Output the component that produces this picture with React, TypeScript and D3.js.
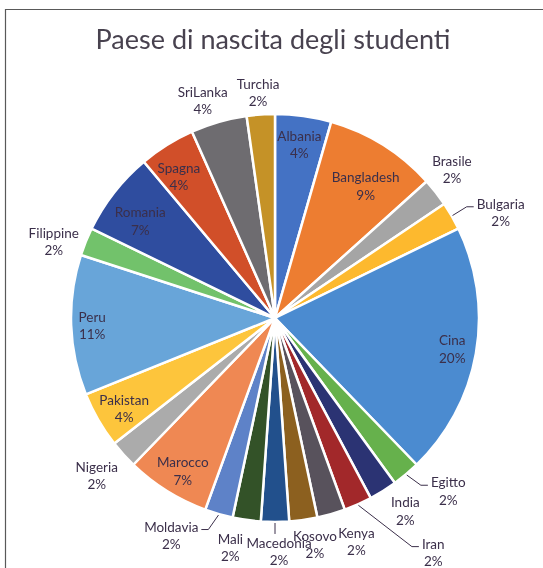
import React, { useEffect, useRef } from "react";
import * as d3 from "d3";

const TITLE = "Paese di nascita degli studenti";

const countries = [
  "Albania", "Bangladesh", "Brasile", "Bulgaria", "Cina", "Egitto", "India", "Iran",
  "Kenya", "Kosovo", "Macedonia", "Mali", "Moldavia", "Marocco", "Nigeria", "Pakistan",
  "Peru", "Filippine", "Romania", "Spagna", "SriLanka", "Turchia",
];

// number of students per country (45 in total)
const students = [2, 4, 1, 1, 9, 1, 1, 1, 1, 1, 1, 1, 1, 3, 1, 2, 5, 1, 3, 2, 2, 1];

const colors = [
  "#4472C4", "#ED7D31", "#A5A5A5", "#FDB92E", "#4B8BD0", "#66B14C", "#2B3373", "#A2282A",
  "#58525C", "#8C601F", "#22508C", "#335228", "#5E82C8", "#EF8853", "#ABABAB", "#FDC53C",
  "#68A5D9", "#72C26B", "#2F4D9F", "#D14F29", "#6E6C70", "#C59227",
];

// label placement: radius (px) and angle nudge (deg) from the slice middle; leader flag
const labelLayout: { r: number; da: number; leader?: boolean }[] = [
  { r: 175, da: 0 }, { r: 160, da: 2.5 }, { r: 231, da: -2 }, { r: 249, da: 5, leader: true },
  { r: 180, da: 0 }, { r: 245, da: -5, leader: true }, { r: 233, da: -2 }, { r: 283, da: -10, leader: true },
  { r: 238, da: -4 }, { r: 230, da: -2 }, { r: 234, da: -1, leader: true }, { r: 234, da: 3 },
  { r: 241, da: 9.5, leader: true }, { r: 179, da: -1 }, { r: 238, da: 0.5 }, { r: 176, da: -1 },
  { r: 183, da: -0.5 }, { r: 234, da: -3 }, { r: 166, da: -2.3 }, { r: 171, da: -2.2 },
  { r: 229, da: -2.4 }, { r: 226, da: -0.3 },
];

const W = 543;
const H = 568;

export default function App() {
  const ref = useRef<SVGSVGElement>(null);

  useEffect(() => {
    const svg = d3.select(ref.current);
    svg.selectAll("*").remove();

    const cx = 275;
    const cy = 318;
    const R = 204;
    const total = d3.sum(students);
    const data = countries.map((c, i) => ({ c, v: students[i], i }));

    // frame
    svg.append("path")
      .attr("d", `M ${W + 5} 9.5 H 5.5 V ${H + 5}`)
      .attr("fill", "none")
      .attr("stroke", "#595959")
      .attr("stroke-width", 1.2);

    svg.append("text")
      .attr("x", 273)
      .attr("y", 49)
      .attr("text-anchor", "middle")
      .attr("font-family", "Lato, 'Open Sans', sans-serif")
      .attr("font-size", 27)
      .attr("fill", "#48424f")
      .text(TITLE);

    const pie = d3.pie<any>().sort(null).value((d: any) => d.v);
    const arcs = pie(data);
    const arc = d3.arc<any>().innerRadius(0).outerRadius(R);

    const g = svg.append("g").attr("transform", `translate(${cx},${cy})`);
    g.selectAll("path.slice")
      .data(arcs)
      .enter()
      .append("path")
      .attr("class", "slice")
      .attr("d", arc as any)
      .attr("fill", (d: any) => colors[d.data.i])
      .attr("stroke", "#fff")
      .attr("stroke-width", 2.5)
      .attr("stroke-linejoin", "round");

    const lg = g.append("g");
    arcs.forEach((a: any, i: number) => {
      const lay = labelLayout[i];
      const mid = (a.startAngle + a.endAngle) / 2;
      const ang = mid + (lay.da * Math.PI) / 180;
      const x = Math.sin(ang) * lay.r;
      const y = -Math.cos(ang) * lay.r;
      const pct = Math.round((a.data.v / total) * 100) + "%";
      const t = lg.append("text")
        .attr("text-anchor", "middle")
        .attr("font-family", "Lato, 'Open Sans', sans-serif")
        .attr("font-size", 13.5)
        .attr("fill", "#3b2f4a");
      t.append("tspan").attr("x", x).attr("y", y - 4).text(a.data.c);
      t.append("tspan").attr("x", x).attr("y", y + 13.5).text(pct);

      if (lay.leader) {
        const bb = (t.node() as SVGTextElement).getBBox();
        const sx = Math.sin(mid) * (R + 1);
        const sy = -Math.cos(mid) * (R + 1);
        let pts: [number, number][];
        if (Math.abs(sx) < 10) {
          pts = [[sx, sy], [sx, bb.y - 1]];
        } else {
          const line1W = (t.select("tspan").node() as SVGTSpanElement).getComputedTextLength();
          const side = sx > 0 ? -1 : 1;
          const ex = x + side * (line1W / 2 + 3);
          const ey = y - 6;
          pts = [[sx, sy], [ex + side * 7, ey], [ex, ey]];
        }
        lg.append("path")
          .attr("d", d3.line()(pts) as string)
          .attr("fill", "none")
          .attr("stroke", "#3b2f4a")
          .attr("stroke-width", 1);
      }
    });
  }, []);

  return (
    <div style={{ position: "fixed", left: 0, top: 0, width: W, height: H, overflow: "hidden" }}>
      <svg ref={ref} width={W} height={H} style={{ display: "block" }} />
    </div>
  );
}
